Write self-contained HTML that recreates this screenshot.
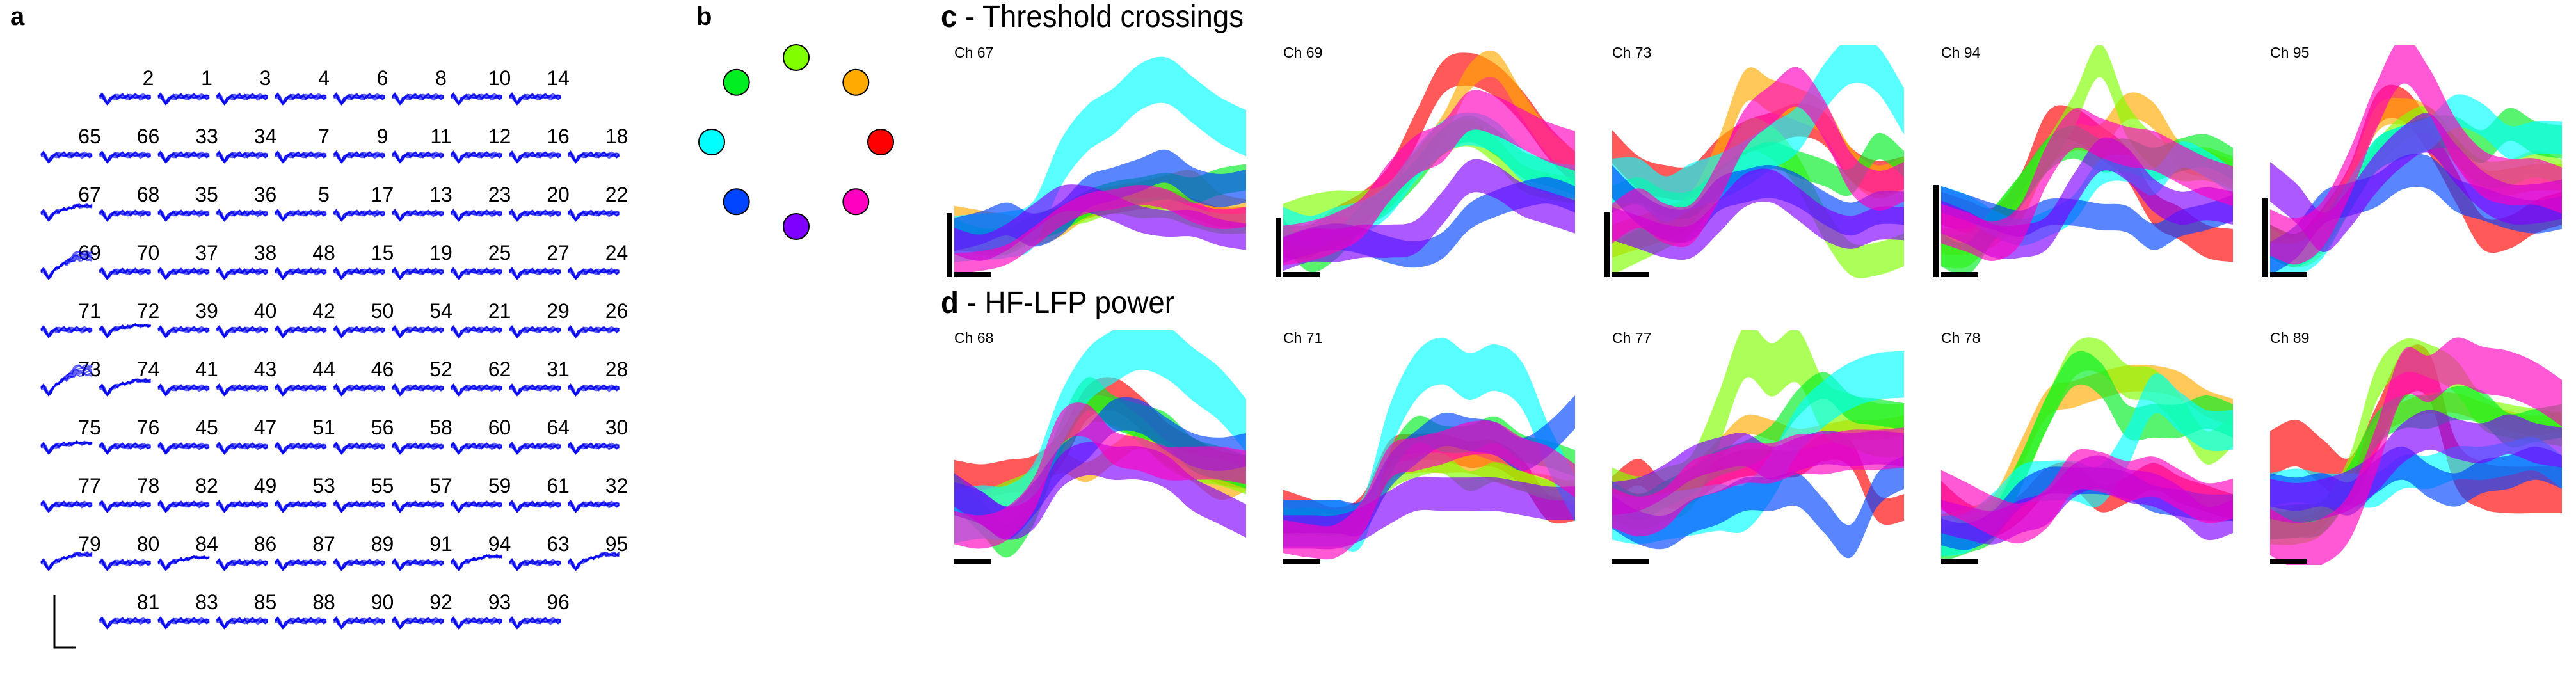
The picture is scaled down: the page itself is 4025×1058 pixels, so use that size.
<!DOCTYPE html>
<html><head><meta charset="utf-8">
<style>
html,body{margin:0;padding:0;background:#fff;}
svg{display:block;}
text{font-family:"Liberation Sans","DejaVu Sans",sans-serif;}
</style></head>
<body>
<svg id="fig" width="4025" height="1058" viewBox="0 0 4025 1058" xmlns="http://www.w3.org/2000/svg">
<rect width="4025" height="1058" fill="#fff"/>
<g id="panelA"></g>
<g id="panelB"></g>
<g id="panelC"></g>
<g id="panelD"></g>
</svg>
<script>
const NS="http://www.w3.org/2000/svg";
// ---- Panel a data ----
const gridRows=[
[null,2,1,3,4,6,8,10,14,null],
[65,66,33,34,7,9,11,12,16,18],
[67,68,35,36,5,17,13,23,20,22],
[69,70,37,38,48,15,19,25,27,24],
[71,72,39,40,42,50,54,21,29,26],
[73,74,41,43,44,46,52,62,31,28],
[75,76,45,47,51,56,58,60,64,30],
[77,78,82,49,53,55,57,59,61,32],
[79,80,84,86,87,89,91,94,63,95],
[null,81,83,85,88,90,92,93,96,null]];
const risingChannels=[67,69,73,74,79,95,94,84,72,75];
const risingAmount=[14,30,34,14,16,16,12,10,8,6];
const waveTemplate=[0,-2,4,11,5,1,0,1,0,-1,1,0,1,0,-1,0,1,0,0,1,0];
// ---- Panel b data ----
const dirColors=["#80ff00","#00ee22","#ffaa00","#00ffff","#ff0000","#0044ff","#ff00c0","#8000ff"];
const dirAngles=[90,135,45,180,0,225,315,270];
// ---- Panels c/d data: 8 series (red,orange,lime,green,cyan,blue,purple,magenta), 12 samples each, 0-100 scale ----
const seriesColors=["#ff0000","#ffaa00","#80ff00","#00ee22","#00ffff","#0044ff","#8000ff","#ff00c0"];
const seriesNames=["red","orange","lime","green","cyan","blue","purple","magenta"];
const panelCNames=["Ch 67","Ch 69","Ch 73","Ch 94","Ch 95"];
const panelDNames=["Ch 68","Ch 71","Ch 77","Ch 78","Ch 89"];
const scaleBarC=[100,92,101,144,123];
const ch67=[[14,14,14,20,25,29,31,33,33,29,25,25],[24,22,20,18,22,30,33,35,38,40,30,27],[14,15,17,22,25,27,31,29,29,25,22,22],[18,14,14,20,24,31,35,37,39,37,41,43],[15,16,17,22,49,65,73,84,87,78,69,63],[17,20,24,19,24,36,40,44,48,40,37,39],[14,11,16,25,33,33,29,24,22,22,18,16],[4,5,8,16,25,31,33,35,33,27,24,25]];
const ch67W=[6,8,6,8,14,10,8,6];
const ch69=[[14,14,22,29,41,65,88,92,87,75,59,47],[14,14,18,25,35,49,65,88,94,76,59,49],[25,29,31,31,35,49,59,63,55,43,39,37],[18,6,12,25,33,45,59,65,59,49,45,41],[22,18,22,25,33,49,61,65,61,49,43,41],[10,14,16,14,10,8,12,25,31,35,37,33],[8,12,12,14,14,16,29,43,41,33,29,25],[12,14,18,25,41,53,59,73,71,65,59,55]];
const ch69W=[10,8,8,8,10,8,10,12];
const ch73=[[57,45,41,41,53,61,65,69,65,49,43,45],[14,18,22,29,53,84,80,76,69,49,41,45],[6,12,18,25,41,61,59,45,22,6,6,10],[33,37,31,31,41,49,53,49,45,41,57,49],[41,41,33,39,43,49,57,65,84,96,92,73],[41,29,22,22,35,39,41,37,29,24,29,29],[22,18,14,14,25,37,39,31,22,18,22,22],[22,29,22,22,41,65,76,84,69,45,37,41]];
const ch73W=[10,10,10,8,14,10,10,12];
const ch94=[[29,25,22,37,65,67,59,49,29,22,14,12],[14,14,18,29,53,61,61,75,71,53,49,45],[10,10,22,37,53,73,96,69,55,49,49,45],[10,6,22,37,53,59,53,53,49,53,55,49],[33,29,22,18,22,29,45,47,41,53,49,41],[33,29,25,22,27,27,25,24,16,22,25,29],[25,20,14,14,18,37,53,49,35,29,31,29],[22,18,14,22,49,65,61,57,55,49,43,39]];
const ch94W=[10,8,10,10,8,8,10,12];
const ch95=[[14,10,22,41,73,76,61,39,18,18,25,29],[14,10,22,41,69,73,69,55,41,41,43,43],[14,8,14,33,53,65,69,55,45,45,49,45],[14,10,18,35,53,59,63,63,57,67,61,59],[6,6,14,35,53,59,63,73,69,59,61,61],[6,14,29,33,37,45,45,35,31,27,25,27],[41,31,18,29,45,57,63,49,37,31,31,33],[18,14,22,45,75,96,82,59,45,41,41,37]];
const ch95W=[10,8,8,10,10,10,12,14];
const ch68=[[37,35,37,39,49,70,74,66,54,47,41,39],[29,25,29,35,43,39,47,54,47,39,31,35],[29,25,29,35,50,66,66,58,47,41,39,35],[31,19,8,23,54,74,66,62,58,47,43,39],[19,21,21,31,62,82,91,97,93,83,74,60],[27,23,16,27,43,52,64,64,56,49,47,49],[31,23,16,21,39,45,43,43,39,29,23,17],[14,12,16,29,58,62,50,47,43,43,43,41]];
const ch68W=[10,6,8,10,16,10,10,10];
const ch71=[[25,21,17,23,47,50,50,47,47,39,23,23],[16,16,16,19,39,43,43,43,39,35,33,29],[19,16,16,19,35,41,43,35,39,35,31,31],[16,17,16,19,43,58,54,54,58,50,47,43],[16,16,16,17,58,82,89,82,86,78,50,27],[19,19,19,19,39,50,58,56,54,47,54,66],[12,12,12,16,23,29,29,29,29,27,25,25],[10,8,8,19,43,47,50,54,54,47,43,35]];
const ch71W=[8,6,6,8,14,10,10,10];
const ch77=[[31,39,29,31,39,43,43,43,50,47,23,23],[29,25,29,37,49,60,58,54,56,58,58,60],[29,25,29,35,62,93,85,91,68,62,58,58],[29,23,29,35,43,47,54,70,78,68,66,64],[19,17,19,21,23,23,37,58,70,78,82,83],[21,14,12,19,23,29,29,31,19,8,31,39],[27,29,35,43,47,49,43,47,50,49,50,49],[23,19,23,35,39,43,43,47,47,49,49,50]];
const ch77W=[8,6,16,8,14,10,10,12];
const ch78=[[29,19,16,23,35,37,27,31,37,31,27,23],[14,17,23,47,70,74,78,81,81,78,70,66],[8,12,19,39,66,89,91,80,78,66,50,58],[6,10,16,39,66,85,81,62,62,62,66,62],[10,12,21,33,35,35,33,50,74,66,58,58],[12,10,16,29,35,35,35,33,27,25,23,23],[19,16,14,19,23,35,39,33,31,25,16,19],[31,25,19,16,23,39,39,35,37,31,25,27]];
const ch78W=[8,8,10,10,12,8,10,12];
const ch89=[[47,52,43,35,58,82,82,43,33,31,31,31],[14,14,19,39,58,66,70,70,66,62,60,62],[14,14,19,39,78,91,89,82,66,62,60,58],[16,17,19,35,58,66,66,70,68,58,60,62],[31,33,31,31,31,39,39,43,43,45,47,39],[31,29,31,27,37,43,35,31,37,39,43,39],[27,25,27,31,39,52,58,54,52,56,52,50],[12,6,8,19,49,83,81,89,85,83,78,70]];
const ch89W=[14,6,10,10,10,10,12,14];
const panelCData=[ch67,ch69,ch73,ch94,ch95];
const panelCWidths=[ch67W,ch69W,ch73W,ch94W,ch95W];
const panelDData=[ch68,ch71,ch77,ch78,ch89];
const panelDWidths=[ch68W,ch71W,ch77W,ch78W,ch89W];
const BAND_SCALE=1.5;

function mk(tag,attrs,parent){const e=document.createElementNS(NS,tag);for(const k in attrs)e.setAttribute(k,attrs[k]);parent.appendChild(e);return e;}
function txt(parent,x,y,s,size,extra){const t=mk("text",Object.assign({x:x,y:y,"font-size":size,fill:"#000"},extra||{}),parent);t.textContent=s;return t;}

// ---- Panel A ----
const A=document.getElementById("panelA");
let la=txt(A,16,39,"a",40,{"font-weight":"bold"});


function waveX(i){return i*(80/(waveTemplate.length-1));}
gridRows.forEach((row,r)=>{
  row.forEach((ch,c)=>{
    if(ch===null)return;
    const x0=64+91.5*c, yb=151+91*r;
    const g=mk("g",{},A);
    
    
    const lbl=txt(g,x0+76,yb-18,String(ch),32,{"text-anchor":"middle"});
    
    
    const ri=risingChannels.indexOf(ch);
    const rise=ri>=0?risingAmount[ri]:0;
    const n=7;
    for(let k=0;k<n;k++){
      let d="";
      waveTemplate.forEach((v,i)=>{
        const fx=i/(waveTemplate.length-1);
        const rr=fx>0.2?-rise*Math.min(1,(fx-0.2)/0.5)*(0.5+0.1*k):0;
        const jit=(k%2?1:-1)*((i*7+k*3)%5-2)*0.8;
        d+=(i?"L":"M")+(x0+waveX(i)).toFixed(1)+","+(yb+v+rr+jit+(k-(n-1)/2)*0.9).toFixed(1);
      });
      const p=mk("path",{d:d,fill:"none",stroke:"#0000ee","stroke-width":2.2,"stroke-opacity":0.6},g);
      
      
    }
  });
});
const sb=mk("path",{d:"M85,930 L85,1012 L118,1012",fill:"none",stroke:"#000","stroke-width":3},A);



// ---- Panel B ----
const B=document.getElementById("panelB");
let lb=txt(B,1088,39,"b",40,{"font-weight":"bold"});


dirAngles.forEach((a,i)=>{
  const rad=a*Math.PI/180;
  const cx=1244+132*Math.cos(rad), cy=222-132*Math.sin(rad);
  const c=mk("circle",{cx:cx.toFixed(1),cy:cy.toFixed(1),r:20,fill:dirColors[i],stroke:"#000","stroke-width":2},B);
  
  
});

// ---- Panels C/D ----
function smoothPath(pts){
  let d="";
  for(let i=0;i<pts.length;i++){
    if(i===0){d+="M"+pts[0][0].toFixed(1)+","+pts[0][1].toFixed(1);continue;}
    const p0=pts[Math.max(0,i-2)],p1=pts[i-1],p2=pts[i],p3=pts[Math.min(pts.length-1,i+1)];
    const c1=[p1[0]+(p2[0]-p0[0])/6,p1[1]+(p2[1]-p0[1])/6];
    const c2=[p2[0]-(p3[0]-p1[0])/6,p2[1]-(p3[1]-p1[1])/6];
    d+="C"+c1[0].toFixed(1)+","+c1[1].toFixed(1)+" "+c2[0].toFixed(1)+","+c2[1].toFixed(1)+" "+p2[0].toFixed(1)+","+p2[1].toFixed(1);
  }
  return d;
}
function drawRow(parent,names,data,widths,bottom,H,titleY,bars,isC){
  const panelLefts=[1491,2005,2519,3033,3547], W=456;
  names.forEach((nm,p)=>{
    const left=panelLefts[p];
    const g=mk("g",{},parent);
    
    
    const xs=i=>left+i/11*W;
    const ys=v=>bottom-v/100*H;
    const clip=mk("clipPath",{id:"clip"+(isC?"c":"d")+p},g);
    mk("rect",{x:left,y:bottom-H-10,width:W,height:H+20},clip);
    const bands=mk("g",{"clip-path":"url(#clip"+(isC?"c":"d")+p+")"},g);
    data[p].forEach((ser,s)=>{
      const w=widths[p][s]*BAND_SCALE/2;
      const up=ser.map((v,i)=>[xs(i),ys(v+w)]);
      const lo=ser.map((v,i)=>[xs(i),ys(v-w)]).reverse();
      let d=smoothPath(up)+smoothPath(lo).replace(/^M/,"L")+"Z";
      const path=mk("path",{d:d,fill:seriesColors[s],"fill-opacity":0.65},bands);
      
      
    });
    const t=txt(g,left,titleY,nm,23);
    
    
    const hb=mk("rect",{x:left,y:bottom,width:57,height:8,fill:"#000"},g);
    
    
    if(bars){
      const vb=mk("rect",{x:left-12,y:bottom+8-bars[p],width:8,height:bars[p],fill:"#000"},g);
      
      
    }
  });
}
const C=document.getElementById("panelC");
const tc=mk("text",{x:1470,y:42,"font-size":48,textLength:473,lengthAdjust:"spacingAndGlyphs"},C);
tc.innerHTML='<tspan font-weight="bold">c</tspan> - Threshold crossings';


drawRow(C,panelCNames,panelCData,panelCWidths,425,344,90,scaleBarC,true);
const D=document.getElementById("panelD");
const td=mk("text",{x:1470,y:489,"font-size":48,textLength:365,lengthAdjust:"spacingAndGlyphs"},D);
td.innerHTML='<tspan font-weight="bold">d</tspan> - HF-LFP power';


drawRow(D,panelDNames,panelDData,panelDWidths,873,347,536,null,false);
</script>
</body></html>
